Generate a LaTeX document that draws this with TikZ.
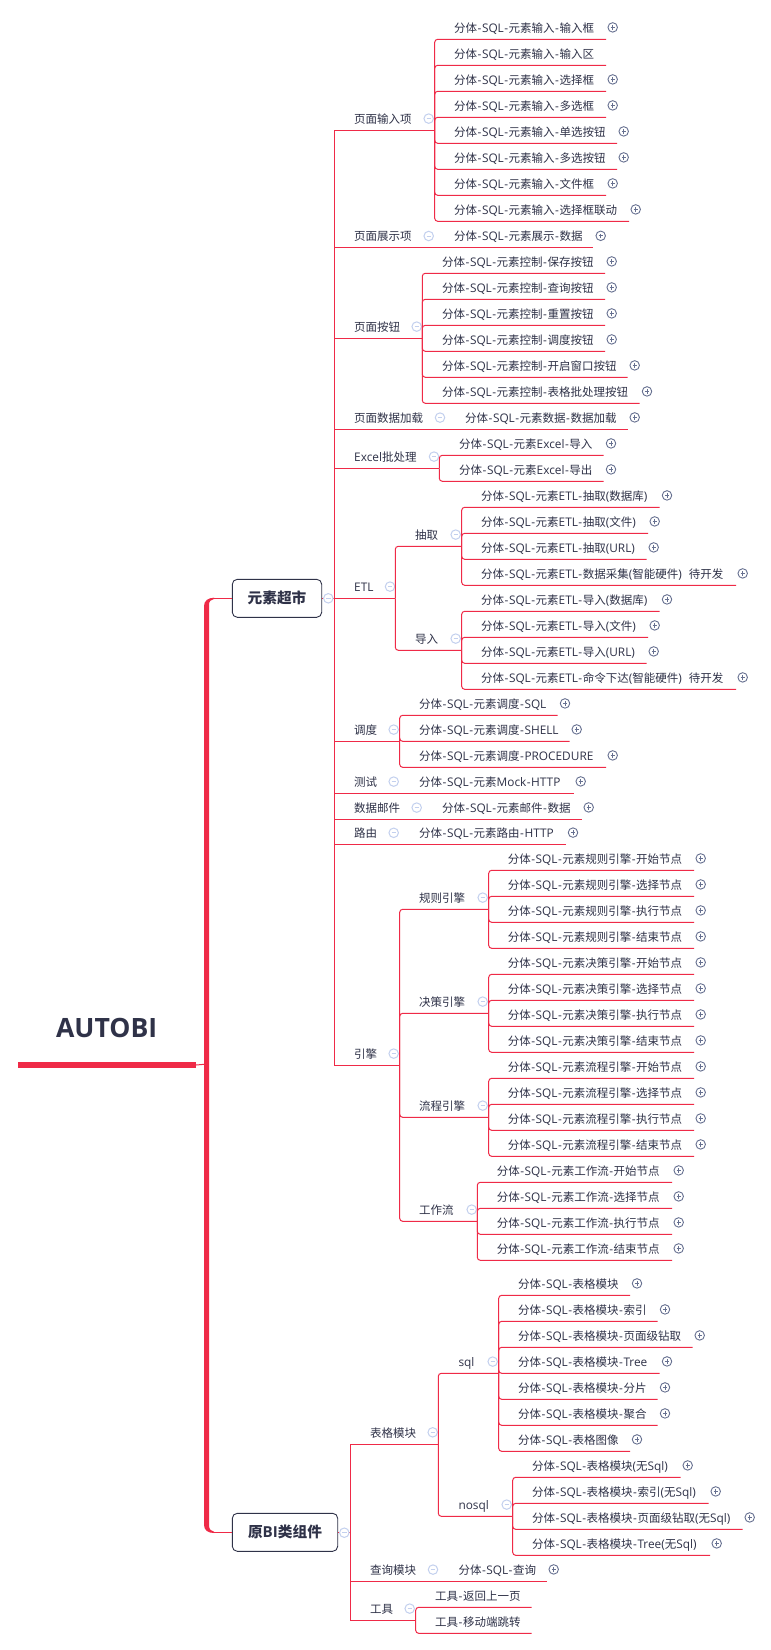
\documentclass[tikz,border=0pt]{standalone}
\usepackage{fontspec}
\setmainfont[Scale=1.03]{Open Sans}
\newfontfamily\cjkfam{Noto Sans CJK SC}
\newcount\cjkcnt
\cjkcnt="4E00
\loop
  \XeTeXcharclass\cjkcnt=100
  \ifnum\cjkcnt<"9FFF \advance\cjkcnt 1 \repeat
\XeTeXcharclass`\-=101
\XeTeXinterchartoks 4095 100 = {\cjkfam}
\XeTeXinterchartoks 0 100 = {\cjkfam}
\XeTeXinterchartoks 100 0 = {\rmfamily}
\XeTeXinterchartoks 4095 0 = {\rmfamily}
\XeTeXinterchartoks 100 101 = {\rmfamily\kern.5pt}
\XeTeXinterchartoks 101 100 = {\kern.5pt\cjkfam}
\XeTeXinterchartoks 0 101 = {\kern.5pt}
\XeTeXinterchartoks 101 0 = {\kern.5pt}
\definecolor{mred}{HTML}{EF2A47}
\definecolor{mink}{HTML}{2F3248}
\definecolor{mminus}{HTML}{C3D0EE}
\definecolor{mplus}{HTML}{667090}
\tikzset{
  conn/.style={draw=mred,line width=1pt},
  lbl/.style={anchor=base west,inner sep=0pt,text=mink,font=\fontsize{11.5}{13}\selectfont},
  togglem/.style={circle,draw=mminus,fill=white,line width=1pt,minimum size=9.5pt,inner sep=0pt},
  togglep/.style={circle,draw=mplus,fill=white,line width=.9pt,minimum size=9.5pt,inner sep=0pt},
  topicbox/.style={draw=mink,fill=white,rounded corners=5pt,line width=.9pt,text=mink,inner sep=0pt,font=\fontsize{14.7}{17}\selectfont\bfseries},
  rnd/.style={rounded corners=3pt},
}
% text + plus toggle
\newcommand{\TX}[5]{% name, y, textx, circlex, text
  \node[lbl] (#1) at (#3,{#2-6.9}) {#5};
  \node[togglep] (#1-p) at (#4,{#2-11.9}) {};
  \draw[mplus,line width=.8pt] ([xshift=-2.2pt]#1-p.center) -- ([xshift=2.2pt]#1-p.center);
  \draw[mplus,line width=.8pt] ([yshift=-2.2pt]#1-p.center) -- ([yshift=2.2pt]#1-p.center);
}
% leaf with plus: name, parent, y, textx, endx, circlex, text
\newcommand{\LF}[7]{%
  \coordinate (#1-e) at (#5,#3);
  \draw[conn,rnd] (#2) |- (#1-e);
  \TX{#1}{#3}{#4}{#6}{#7}
}
% leaf without plus: name, parent, y, textx, endx, text
\newcommand{\LN}[6]{%
  \coordinate (#1-e) at (#5,#3);
  \draw[conn,rnd] (#2) |- (#1-e);
  \node[lbl] (#1) at (#4,{#3-6.9}) {#6};
}
% mid topic: [style], name, parent, y, textx, branchx, minusx, text
\newcommand{\MD}[8][rnd]{%
  \coordinate (#2-b) at (#6,#4);
  \draw[conn,#1] (#3) |- (#2-b);
  \node[lbl] (#2) at (#5,{#4-6.9}) {#8};
  \node[togglem] (#2-m) at (#7,{#4-11.7}) {};
  \draw[mminus,line width=.8pt] ([xshift=-2.2pt]#2-m.center) -- ([xshift=2.2pt]#2-m.center);
}
\begin{document}
\XeTeXinterchartokenstate=1
\begin{tikzpicture}[x=1pt,y=-1pt]
\useasboundingbox (0,0) rectangle (771,1650);
\fill[white] (0,0) rectangle (771,1650);
% root
\node[anchor=base,inner sep=0pt,text=mink,font=\fontsize{25.8}{30}\selectfont\bfseries] (root) at (106.7,1037.3) {AUTOBI};
\coordinate (root-l) at (18,1065);
\coordinate (root-r) at (196,1065);
\coordinate (rail) at (204,1064.3);
\draw[draw=mred,line width=6pt] (root-l) -- (root-r);
\draw[conn] (root-r) -- (rail);
\fill[mred] (204,606) .. controls (204,601) and (208,597.7) .. (214,597.7) -- (214,599) .. controls (211,599.5) and (209,601) .. (209,605) -- (209,1525) .. controls (209,1529) and (211,1531.5) .. (214,1531.7) -- (214,1533) .. controls (208,1533) and (204,1530) .. (204,1525) -- cycle;
% main topics
\node[topicbox,minimum width=89.4pt,minimum height=38pt] (t1) at (277,598.3) {\raisebox{-1.5pt}{元素超市}};
\node[topicbox,minimum width=105.4pt,minimum height=38pt] (t2) at (285,1532.3) {\raisebox{-1.5pt}{原BI类组件}};
\coordinate (s1) at (214,598.3);
\coordinate (s2) at (214,1532.3);
\draw[conn] (s1) -- (t1.west);
\draw[conn] (s2) -- (t2.west);
\coordinate (k1) at (334.7,598.3);
\coordinate (k2) at (350.7,1532.3);
\draw[conn] (t1.east) -- (k1);
\draw[conn] (t2.east) -- (k2);
\node[togglem] (t1-m) at (328.3,598.3) {};
\draw[mminus,line width=.8pt] ([xshift=-2.2pt]t1-m.center) -- ([xshift=2.2pt]t1-m.center);
\node[togglem] (t2-m) at (344.3,1532.7) {};
\draw[mminus,line width=.8pt] ([xshift=-2.2pt]t2-m.center) -- ([xshift=2.2pt]t2-m.center);

% page input
\MD[sharp corners]{a}{k1}{130.3}{354}{434.7}{428.7}{页面输入项}
\LF{a1}{a-b}{39.3}{454}{606}{612.7}{分体-SQL-元素输入-输入框}
\LN{a2}{a-b}{65.3}{454}{606}{分体-SQL-元素输入-输入区}
\LF{a3}{a-b}{91.3}{454}{606}{612.7}{分体-SQL-元素输入-选择框}
\LF{a4}{a-b}{117.3}{454}{606}{612.7}{分体-SQL-元素输入-多选框}
\LF{a5}{a-b}{143.3}{454}{617}{623.7}{分体-SQL-元素输入-单选按钮}
\LF{a6}{a-b}{169.3}{454}{617}{623.7}{分体-SQL-元素输入-多选按钮}
\LF{a7}{a-b}{195.3}{454}{606}{612.7}{分体-SQL-元素输入-文件框}
\LF{a8}{a-b}{221.3}{454}{629}{635.7}{分体-SQL-元素输入-选择框联动}
% page show
\MD[sharp corners]{b}{k1}{247.7}{354}{593.3}{428.7}{页面展示项}
\TX{b1}{247.7}{454}{600.7}{分体-SQL-元素展示-数据}
% buttons
\MD[sharp corners]{c}{k1}{338.3}{354}{422.3}{416.7}{页面按钮}
\LF{c1}{c-b}{273.3}{442}{605}{611.7}{分体-SQL-元素控制-保存按钮}
\LF{c2}{c-b}{299.3}{442}{605}{611.7}{分体-SQL-元素控制-查询按钮}
\LF{c3}{c-b}{325.3}{442}{605}{611.7}{分体-SQL-元素控制-重置按钮}
\LF{c4}{c-b}{351.3}{442}{605}{611.7}{分体-SQL-元素控制-调度按钮}
\LF{c5}{c-b}{377.3}{442}{627.7}{634.7}{分体-SQL-元素控制-开启窗口按钮}
\LF{c6}{c-b}{403.3}{442}{639.7}{647}{分体-SQL-元素控制-表格批处理按钮}
% data load
\MD[sharp corners]{d}{k1}{429.3}{354}{627.7}{440}{页面数据加载}
\TX{d1}{429.3}{465}{634.7}{分体-SQL-元素数据-数据加载}
% excel
\MD[sharp corners]{e}{k1}{468.3}{354}{439.3}{434}{Excel批处理}
\LF{e1}{e-b}{455.3}{459}{603.7}{611}{分体-SQL-元素Excel-导入}
\LF{e2}{e-b}{481.3}{459}{603.7}{611}{分体-SQL-元素Excel-导出}
% ETL
\MD[sharp corners]{f}{k1}{598.3}{354}{395.3}{390}{ETL}
\MD{g}{f-b}{546.3}{415}{461.7}{455.7}{抽取}
\LF{g1}{g-b}{507.3}{481}{659.7}{667}{分体-SQL-元素ETL-抽取(数据库)}
\LF{g2}{g-b}{533.3}{481}{648}{654.7}{分体-SQL-元素ETL-抽取(文件)}
\LF{g3}{g-b}{559.3}{481}{646.7}{653.7}{分体-SQL-元素ETL-抽取(URL)}
\LF{g4}{g-b}{585.3}{481}{736}{742.7}{分体-SQL-元素ETL-数据采集(智能硬件)\hspace{7pt}待开发}
\MD{h}{f-b}{650.3}{415}{461.7}{455.7}{导入}
\LF{h1}{h-b}{611.3}{481}{659.7}{667}{分体-SQL-元素ETL-导入(数据库)}
\LF{h2}{h-b}{637.3}{481}{648}{654.7}{分体-SQL-元素ETL-导入(文件)}
\LF{h3}{h-b}{663.3}{481}{646.7}{653.7}{分体-SQL-元素ETL-导入(URL)}
\LF{h4}{h-b}{689.3}{481}{736}{742.7}{分体-SQL-元素ETL-命令下达(智能硬件)\hspace{7pt}待开发}
% schedule
\MD[sharp corners]{i}{k1}{741.3}{354}{399.7}{393.7}{调度}
\LF{i1}{i-b}{715.3}{419}{557.7}{565}{分体-SQL-元素调度-SQL}
\LF{i2}{i-b}{741.3}{419}{569.7}{576.7}{分体-SQL-元素调度-SHELL}
\LF{i3}{i-b}{767.3}{419}{606}{612.7}{分体-SQL-元素调度-PROCEDURE}
% test, mail, route
\MD[sharp corners]{j}{k1}{793.3}{354}{573.7}{393.7}{测试}
\TX{j1}{793.3}{419}{580.7}{分体-SQL-元素Mock-HTTP}
\MD[sharp corners]{l}{k1}{819.3}{354}{581.7}{416.7}{数据邮件}
\TX{l1}{819.3}{442}{588.7}{分体-SQL-元素邮件-数据}
\MD[sharp corners]{m}{k1}{844.5}{354}{565.7}{393.7}{路由}
\TX{m1}{844.5}{419}{573}{分体-SQL-元素路由-HTTP}
% engine
\MD[sharp corners]{n}{k1}{1065.3}{354}{399.7}{393.7}{引擎}
\MD{o}{n-b}{909.3}{419}{488.7}{482.7}{规则引擎}
\LF{o1}{o-b}{870.3}{507.7}{694}{700.7}{分体-SQL-元素规则引擎-开始节点}
\LF{o2}{o-b}{896.3}{507.7}{694}{700.7}{分体-SQL-元素规则引擎-选择节点}
\LF{o3}{o-b}{922.3}{507.7}{694}{700.7}{分体-SQL-元素规则引擎-执行节点}
\LF{o4}{o-b}{948.3}{507.7}{694}{700.7}{分体-SQL-元素规则引擎-结束节点}
\MD{q}{n-b}{1013.3}{419}{488.7}{482.7}{决策引擎}
\LF{q1}{q-b}{974.3}{507.7}{694}{700.7}{分体-SQL-元素决策引擎-开始节点}
\LF{q2}{q-b}{1000.3}{507.7}{694}{700.7}{分体-SQL-元素决策引擎-选择节点}
\LF{q3}{q-b}{1026.3}{507.7}{694}{700.7}{分体-SQL-元素决策引擎-执行节点}
\LF{q4}{q-b}{1052.3}{507.7}{694}{700.7}{分体-SQL-元素决策引擎-结束节点}
\MD{r}{n-b}{1117.3}{419}{488.7}{482.7}{流程引擎}
\LF{r1}{r-b}{1078.3}{507.7}{694}{700.7}{分体-SQL-元素流程引擎-开始节点}
\LF{r2}{r-b}{1104.3}{507.7}{694}{700.7}{分体-SQL-元素流程引擎-选择节点}
\LF{r3}{r-b}{1130.3}{507.7}{694}{700.7}{分体-SQL-元素流程引擎-执行节点}
\LF{r4}{r-b}{1156.3}{507.7}{694}{700.7}{分体-SQL-元素流程引擎-结束节点}
\MD{u}{n-b}{1221.3}{419}{477.3}{471.7}{工作流}
\LF{u1}{u-b}{1182.3}{496.7}{672}{678.7}{分体-SQL-元素工作流-开始节点}
\LF{u2}{u-b}{1208.3}{496.7}{672}{678.7}{分体-SQL-元素工作流-选择节点}
\LF{u3}{u-b}{1234.3}{496.7}{672}{678.7}{分体-SQL-元素工作流-执行节点}
\LF{u4}{u-b}{1260.3}{496.7}{672}{678.7}{分体-SQL-元素工作流-结束节点}
% table module
\MD[sharp corners]{v}{k2}{1444}{370}{438.3}{432.7}{表格模块}
\MD{w}{v-b}{1373.3}{458.3}{498.7}{492.7}{sql}
\LF{w1}{w-b}{1295.3}{518}{630}{637}{分体-SQL-表格模块}
\LF{w2}{w-b}{1321.3}{518}{657.7}{665}{分体-SQL-表格模块-索引}
\LF{w3}{w-b}{1347.3}{518}{692.7}{699.7}{分体-SQL-表格模块-页面级钻取}
\LF{w4}{w-b}{1373.3}{518}{659.7}{667}{分体-SQL-表格模块-Tree}
\LF{w5}{w-b}{1399.3}{518}{657.7}{665}{分体-SQL-表格模块-分片}
\LF{w6}{w-b}{1425.3}{518}{657.7}{665}{分体-SQL-表格模块-聚合}
\LF{w7}{w-b}{1451.3}{518}{630}{637}{分体-SQL-表格图像}
\MD{x}{v-b}{1516.3}{458.3}{512.7}{506.7}{nosql}
\LF{x1}{x-b}{1477.3}{532}{680.7}{687.7}{分体-SQL-表格模块(无Sql)}
\LF{x2}{x-b}{1503.3}{532}{708.7}{715.7}{分体-SQL-表格模块-索引(无Sql)}
\LF{x3}{x-b}{1529.3}{532}{742.7}{749.7}{分体-SQL-表格模块-页面级钻取(无Sql)}
\LF{x4}{x-b}{1555.3}{532}{710}{716.7}{分体-SQL-表格模块-Tree(无Sql)}
% query
\MD[sharp corners]{y}{k2}{1581.3}{370}{547}{433}{查询模块}
\TX{y1}{1581.3}{458.3}{553.7}{分体-SQL-查询}
% tools
\MD[sharp corners]{z}{k2}{1620.3}{370}{415.7}{409.7}{工具}
\LN{z1}{z-b}{1607.3}{435}{531.7}{工具-返回上一页}
\LN{z2}{z-b}{1633.3}{435}{531.7}{工具-移动端跳转}
\end{tikzpicture}
\end{document}
